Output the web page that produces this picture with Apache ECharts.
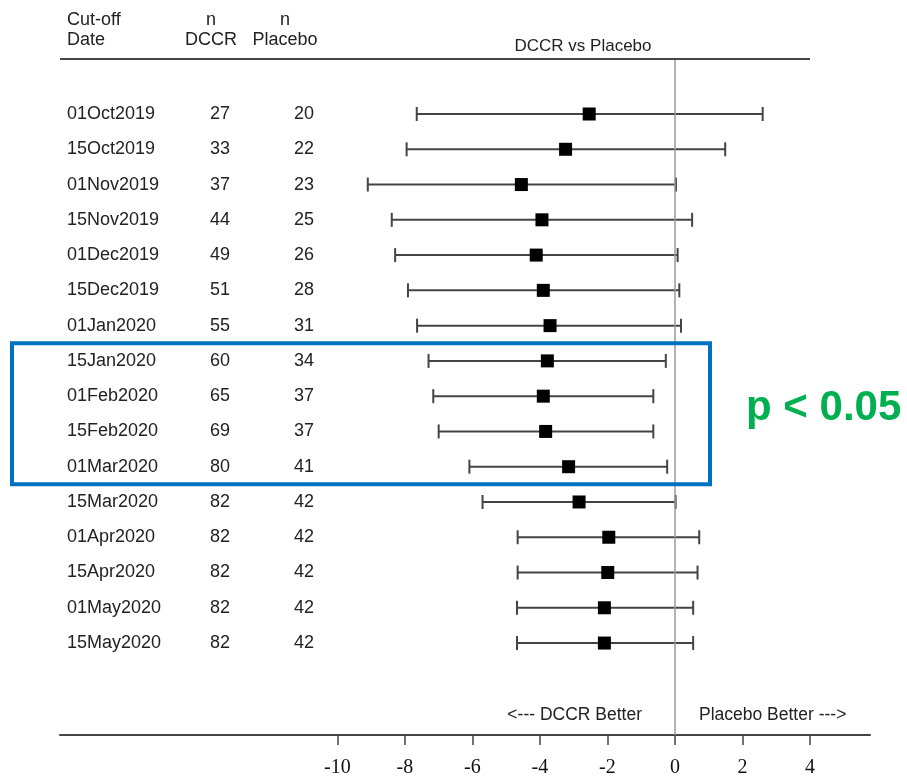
<!DOCTYPE html>
<html>
<head>
<meta charset="utf-8">
<script src="https://cdn.jsdelivr.net/npm/echarts@6/dist/echarts.min.js"></script>
<style>html,body{margin:0;padding:0;background:#fff}#c{width:907px;height:777px}</style>
</head>
<body>
<div id="c"></div>
<script>
const dates = ['01Oct2019','15Oct2019','01Nov2019','15Nov2019','01Dec2019','15Dec2019','01Jan2020','15Jan2020','01Feb2020','15Feb2020','01Mar2020','15Mar2020','01Apr2020','15Apr2020','01May2020','15May2020'];
const nDCCR = [27,33,37,44,49,51,55,60,65,69,80,82,82,82,82,82];
const nPlacebo = [20,22,23,25,26,28,31,34,37,37,41,42,42,42,42,42];
const estimate = [-2.54,-3.24,-4.55,-3.94,-4.11,-3.90,-3.70,-3.78,-3.90,-3.83,-3.15,-2.84,-1.96,-1.99,-2.09,-2.09];
const lower = [-7.65,-7.95,-9.10,-8.39,-8.29,-7.91,-7.64,-7.30,-7.16,-7.00,-6.09,-5.70,-4.66,-4.66,-4.68,-4.68];
const upper = [2.60,1.49,0.03,0.51,0.08,0.13,0.18,-0.27,-0.64,-0.64,-0.23,0.02,0.72,0.67,0.54,0.54];
const xTicks = [-10,-8,-6,-4,-2,0,2,4];
const sigRows = [7,10]; // rows with p < 0.05 (first, last)

const FONT = 'Liberation Sans, Arial, sans-serif';
const chart = echarts.init(document.getElementById('c'), null, {renderer:'canvas'});

const ciData = dates.map((d,i)=>[i, lower[i], upper[i]]);
const ptData = dates.map((d,i)=>[estimate[i], i]);
const txtData = dates.map((d,i)=>[i, d, nDCCR[i], nPlacebo[i]]);

const option = {
  animation: false,
  backgroundColor: '#fff',
  grid: {left: 60, right: 37, top: 58, bottom: 42, containLabel: false, outerBoundsMode: 'none'},
  xAxis: {
    type: 'value', min: -18.22, max: 5.78,
    splitLine: {show:false},
    axisLine: {show:true, onZero:false, lineStyle:{color:'#444', width:2}},
    axisTick: {show:true, customValues: xTicks, length: 10, lineStyle:{color:'#444', width:1.5}},
    axisLabel: {show:true, customValues: xTicks, margin: 23, fontFamily:'Liberation Serif, Times New Roman, serif', fontSize: 20, color:'#111'}
  },
  yAxis: {
    type: 'value', inverse: true, min: -1.588, max: 17.607, show: false
  },
  series: [
    {
      type: 'custom',
      data: ciData,
      encode: {x:[1,2], y:0},
      renderItem: function(params, api){
        const y = api.value(0);
        const p1 = api.coord([api.value(1), y]);
        const p2 = api.coord([api.value(2), y]);
        const h = 7;
        const st = {stroke:'#444', lineWidth:2};
        return {type:'group', children:[
          {type:'line', shape:{x1:p1[0], y1:p1[1], x2:p2[0], y2:p2[1]}, style:st},
          {type:'line', shape:{x1:p1[0], y1:p1[1]-h, x2:p1[0], y2:p1[1]+h}, style:st},
          {type:'line', shape:{x1:p2[0], y1:p2[1]-h, x2:p2[0], y2:p2[1]+h}, style:st}
        ]};
      },
      markLine: {
        silent: true, symbol: 'none', label:{show:false},
        lineStyle: {color:'#9a9a9a', width:1.5, type:'solid'},
        data: [{xAxis: 0}]
      },
      z: 3
    },
    {
      type: 'scatter',
      data: ptData,
      symbol: 'rect',
      symbolSize: 13,
      itemStyle: {color:'#000', opacity:1},
      z: 5
    },
    {
      type: 'custom',
      data: txtData,
      encode: {y:0},
      clip: false,
      renderItem: function(params, api){
        const i = api.value(0);
        const y = api.coord([0, i])[1];
        const ts = {fill:'#222', font:'18px ' + FONT, textVerticalAlign:'middle'};
        return {type:'group', children:[
          {type:'text', x:67, y:y, style:Object.assign({text:dates[i], textAlign:'left'}, ts)},
          {type:'text', x:220, y:y, style:Object.assign({text:String(nDCCR[i]), textAlign:'center'}, ts)},
          {type:'text', x:304, y:y, style:Object.assign({text:String(nPlacebo[i]), textAlign:'center'}, ts)}
        ]};
      },
      z: 4
    }
  ]
};
chart.setOption(option);

const top0 = chart.convertToPixel({xAxisIndex:0, yAxisIndex:0}, [0, sigRows[0]-0.5])[1];
const bot0 = chart.convertToPixel({xAxisIndex:0, yAxisIndex:0}, [0, sigRows[1]+0.5])[1];
const hs = {fill:'#222', font:'18px ' + FONT, textVerticalAlign:'middle'};
chart.setOption({
  graphic: [
    {type:'line', shape:{x1:60, y1:59, x2:810, y2:59}, style:{stroke:'#444', lineWidth:2}, z:10},
    {type:'text', x:67, y:20, style:Object.assign({text:'Cut-off', textAlign:'left'}, hs)},
    {type:'text', x:67, y:40, style:Object.assign({text:'Date', textAlign:'left'}, hs)},
    {type:'text', x:211, y:20, style:Object.assign({text:'n', textAlign:'center'}, hs)},
    {type:'text', x:211, y:40, style:Object.assign({text:'DCCR', textAlign:'center'}, hs)},
    {type:'text', x:285, y:20, style:Object.assign({text:'n', textAlign:'center'}, hs)},
    {type:'text', x:285, y:40, style:Object.assign({text:'Placebo', textAlign:'center'}, hs)},
    {type:'text', x:583, y:46, style:{text:'DCCR vs Placebo', textAlign:'center', textVerticalAlign:'middle', fill:'#222', font:'17px ' + FONT}},
    {type:'text', x:642, y:715, style:{text:'<--- DCCR Better', textAlign:'right', textVerticalAlign:'middle', fill:'#222', font:'17.5px ' + FONT}},
    {type:'text', x:699, y:715, style:{text:'Placebo Better --->', textAlign:'left', textVerticalAlign:'middle', fill:'#222', font:'17.5px ' + FONT}},
    {type:'rect', shape:{x:12, y:top0, width:698, height:bot0-top0}, style:{fill:'none', stroke:'#0070C0', lineWidth:4}, z:20},
    {type:'text', x:746, y:408, style:{text:'p < 0.05', textAlign:'left', textVerticalAlign:'middle', fill:'#00B050', font:'bold 42px ' + FONT}, z:20}
  ]
});
</script>
</body>
</html>
